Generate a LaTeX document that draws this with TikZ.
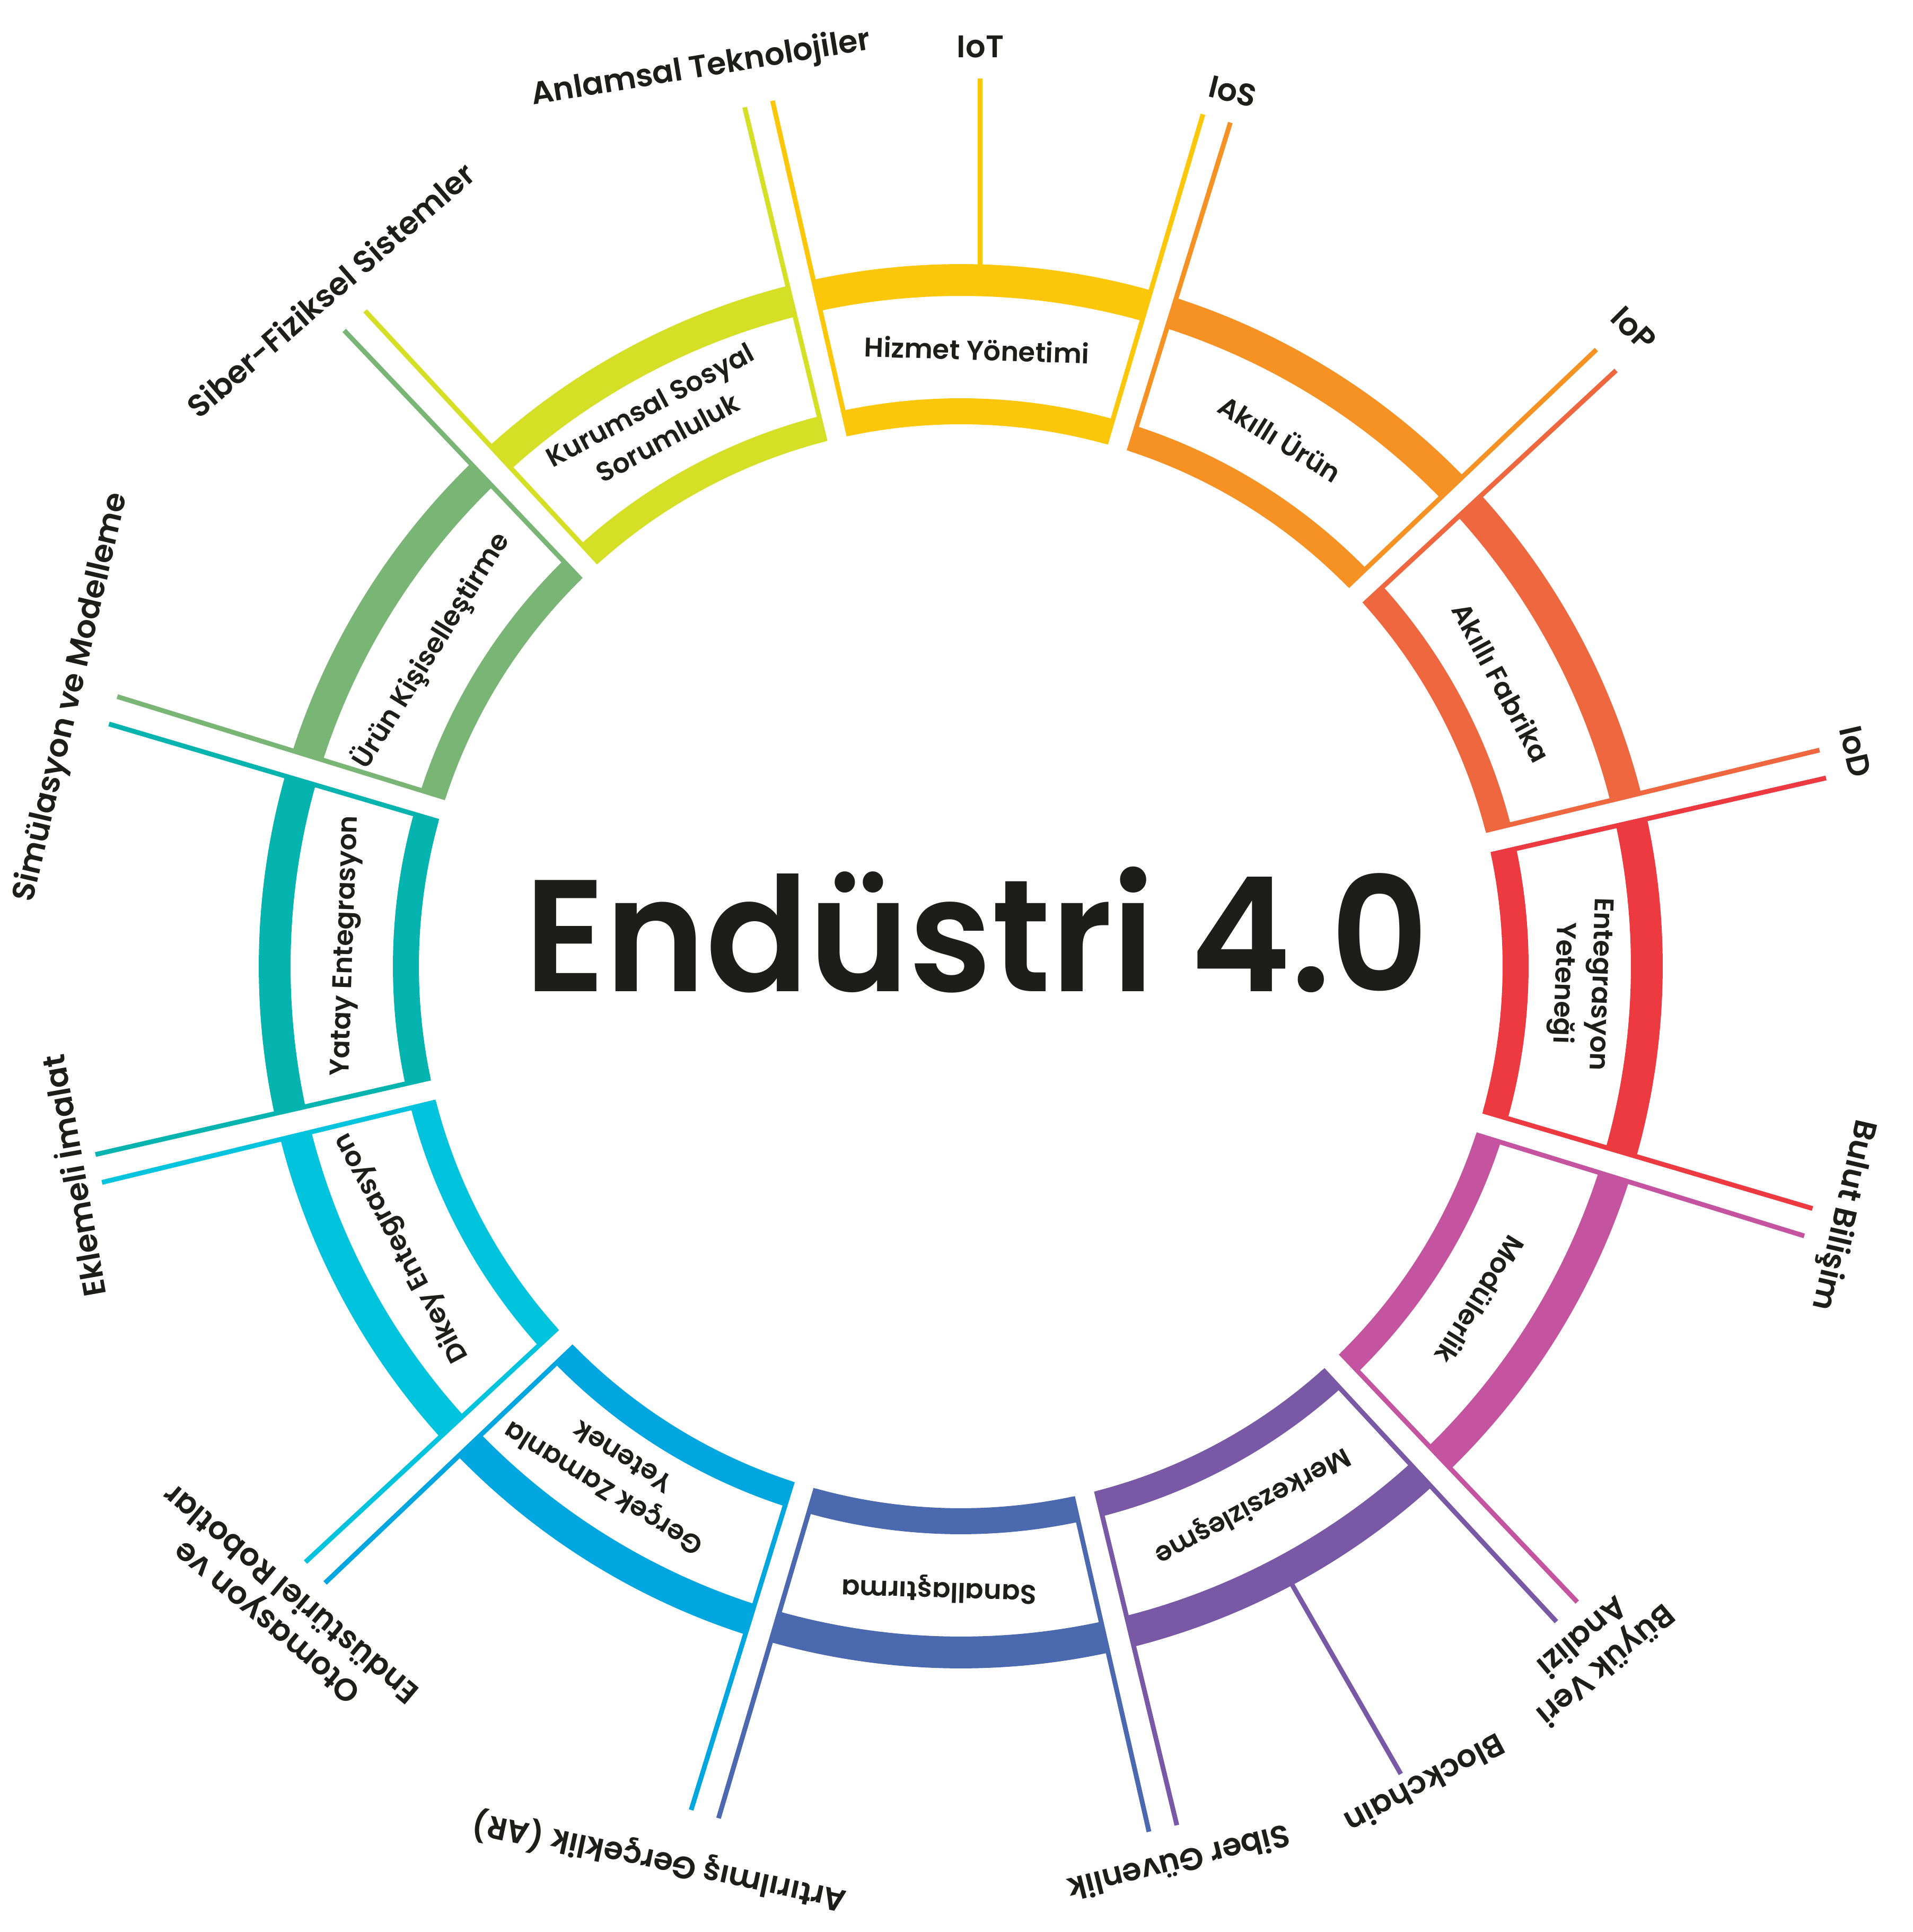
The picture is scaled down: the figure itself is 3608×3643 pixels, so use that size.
\documentclass[tikz,border=0pt]{standalone}
\usepackage{fontspec}
\setmainfont{Poppins}[UprightFont={* SemiBold},BoldFont={* SemiBold}]
\usetikzlibrary{calc}
\definecolor{ink}{RGB}{29,29,27}
\definecolor{cA}{RGB}{253,199,9}
\definecolor{cB}{RGB}{246,146,36}
\definecolor{cC}{RGB}{239,103,62}
\definecolor{cD}{RGB}{236,58,64}
\definecolor{cE}{RGB}{196,83,160}
\definecolor{cF}{RGB}{121,88,165}
\definecolor{cG}{RGB}{74,105,175}
\definecolor{cH}{RGB}{0,166,224}
\definecolor{cI}{RGB}{0,196,222}
\definecolor{cJ}{RGB}{6,180,175}
\definecolor{cK}{RGB}{121,182,117}
\definecolor{cL}{RGB}{213,223,38}
\tikzset{
  sepline/.style={line width=9pt},
  segtxt/.style={font=\fontsize{51}{70}\selectfont, text=ink, align=center, inner sep=0pt},
  lab/.style={font=\fontsize{59}{70}\selectfont, text=ink, align=center, inner sep=0pt},
  titletxt/.style={font=\fontsize{300}{300}\selectfont, text=ink, inner sep=0pt, anchor=base, xscale=0.955}
}
\begin{document}
\begin{tikzpicture}[x=1pt,y=1pt]
\useasboundingbox (0,0) rectangle (3608,3643);
\coordinate (C) at (1812,1821);
% ring segments
\foreach \k/\col in {0/cA,1/cB,2/cC,3/cD,4/cE,5/cF,6/cG,7/cH,8/cI,9/cJ,10/cK,11/cL}{
  \pgfmathsetmacro\aL{103.2-30*\k}
  \pgfmathsetmacro\aR{73.2-30*\k}
  \fill[\col] ($(C)+({\aL-1.08}:1324)$) arc[start angle={\aL-1.08}, end angle={\aR+1.08}, radius=1324]
     -- ($(C)+({\aR+1.13}:1264)$) arc[start angle={\aR+1.13}, end angle={\aL-1.13}, radius=1264] -- cycle;
  \fill[\col] ($(C)+({\aL-1.24}:1071)$) arc[start angle={\aL-1.24}, end angle={\aR+1.24}, radius=1071]
     -- ($(C)+({\aR+1.30}:1022)$) arc[start angle={\aR+1.30}, end angle={\aL-1.30}, radius=1022] -- cycle;
  \coordinate (s\k-a1) at ($(C)+({\aL}:1022)+({\aL-90}:23)$);
  \coordinate (s\k-a2) at ($(C)+({\aL}:1670)+({\aL-90}:27)$);
  \coordinate (s\k-b1) at ($(C)+({\aR}:1022)+({\aR+90}:23)$);
  \coordinate (s\k-b2) at ($(C)+({\aR}:1670)+({\aR+90}:27)$);
  \draw[\col, sepline] (s\k-a1) -- (s\k-a2);
  \draw[\col, sepline] (s\k-b1) -- (s\k-b2);
}
% single lines
\coordinate (iotA) at (1848,3140);
\coordinate (iotB) at (1848,3495);
\draw[cA, sepline] (iotA) -- (iotB);
\coordinate (bcA) at (2434,660);
\coordinate (bcB) at (2642,298);
\draw[cF, sepline] (bcA) -- (bcB);
% segment texts
\node[segtxt, rotate=-1.8] (tHiz) at ($(C)+(88.5:1163)$) {Hizmet Yönetimi};
\node[segtxt, rotate=-31.8] (tUrun) at ($(C)+(58.8:1166)$) {Akıllı Ürün};
\node[segtxt, rotate=-61.8] (tFab) at ($(C)+(27.7:1152)$) {Akıllı Fabrika};
\node[segtxt, rotate=-91.8] (tEnt) at ($(C)+(-1.6:1168)$) {Entegrasyon\\Yeteneği};
\node[segtxt, rotate=-121.8] (tMod) at ($(C)+(-32.7:1165)$) {Modülerlik};
\node[segtxt, rotate=-151.8] (tMer) at ($(C)+(-61.6:1155)$) {Merkezsizleşme};
\node[segtxt, rotate=-181.8] (tSan) at ($(C)+(-92:1175)$) {Sanallaştırma};
\node[segtxt, rotate=-211.8] (tGer) at ($(C)+(-124.5:1160)$) {Gerçek Zamanla\\Yetenek};
\node[segtxt, rotate=-241.8] (tDik) at ($(C)+(-153.3:1180)$) {Dikey Entegrasyon};
\node[segtxt, rotate=88.2] (tYat) at ($(C)+(178.1:1158)$) {Yatay Entegrasyon};
\node[segtxt, rotate=58.2] (tKis) at ($(C)+(149.2:1163)$) {Ürün Kişiselleştirme};
\node[segtxt, rotate=28.2] (tKur) at ($(C)+(119:1175)$) {Kurumsal Sosyal\\Sorumluluk};
% title
\node[titletxt] (title) at (1842,1773) {Endüstri 4.0};
% outer labels
\node[lab] (lIoT) at (1849,3555) {IoT};
\node[lab, rotate=9.3] (lAnl) at (1322,3513) {Anlamsal Teknolojiler};
\node[lab, rotate=-14] (lIoS) at (2325,3471) {IoS};
\node[lab, rotate=-45] (lIoP) at (3081,3023) {IoP};
\node[lab, rotate=-77] (lIoD) at (3499,2226) {IoD};
\node[lab, rotate=-103] (lBul) at (3475,1352) {Bulut Bilişim};
\node[lab, rotate=-140] (lBuy) at (3008,528) {Büyük Veri\\Analizi};
\node[lab, rotate=-152] (lBlo) at (2688,278) {Blockchain};
\node[lab, rotate=-166] (lSib) at (2224,129) {Siber Güvenlik};
\node[lab, rotate=168] (lAR) at (1243,132) {Artırılmış Gerçeklik (AR)};
\node[lab, rotate=140] (lOto) at (525,610) {Otomasyon ve\\Endüstüriel Robotlar};
\node[lab, rotate=100] (lEkl) at (135,1425) {Eklemeli İmalat};
\node[lab, rotate=77] (lSim) at (135,2328) {Simülasyon ve Modelleme};
\node[lab, rotate=41] (lSFS) at (623,3097) {Siber-Fiziksel Sistemler};
\end{tikzpicture}
\end{document}
